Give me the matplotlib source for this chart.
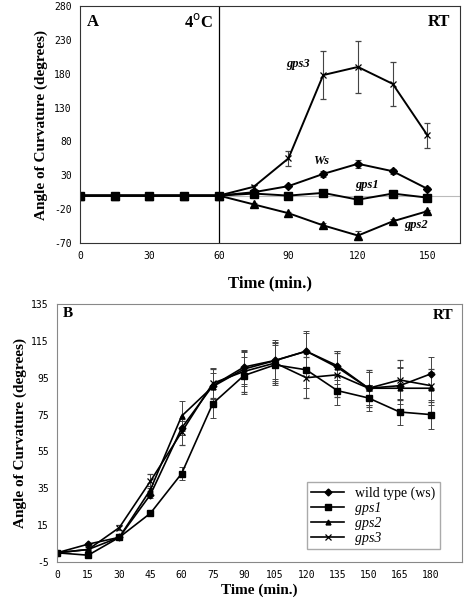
import matplotlib.pyplot as plt

plt.rcParams["axes.unicode_minus"] = False

# ---- panel A data ----
time_a = [0, 15, 30, 45, 60, 75, 90, 105, 120, 135, 150]
ws_a = [0, 0, 0, 0, 0, 5, 14, 32, 47, 36, 10]
ws_a_err = [0, 0, 0, 0, 0, 1, 2, 4, 6, 4, 2]
gps1_a = [0, 0, 0, 0, 0, 3, 0, 4, -6, 3, -3]
gps1_a_err = [0, 0, 0, 0, 0, 1, 1, 2, 2, 1, 1]
gps2_a = [0, 0, 0, 0, 0, -13, -26, -44, -59, -38, -23]
gps2_a_err = [0, 0, 0, 0, 0, 2, 2, 4, 6, 4, 2]
gps3_a = [0, 0, 0, 0, 0, 13, 55, 178, 190, 165, 89]
gps3_a_err = [0, 0, 0, 0, 0, 3, 11, 35, 38, 33, 18]

# ---- panel B data ----
time_b = [0, 15, 30, 45, 60, 75, 90, 105, 120, 135, 150, 165, 180]
ws_b = [0, 4.7, 8.4, 31.6, 67.7, 90.7, 100.8, 104.4, 109.4, 101.5, 89.3, 90.7, 97.1]
ws_b_err = [0, 0.5, 1, 2, 4, 7, 9, 10, 10, 8, 9, 10, 9]
gps1_b = [0, -1.3, 8.4, 21.5, 43, 81, 96.2, 102, 99.3, 88, 84, 76.4, 75]
gps1_b_err = [0, 0.5, 1, 1.5, 3.5, 8, 10, 11, 10, 8, 7, 7, 8]
gps2_b = [0, 1.8, 8.4, 34.3, 74.2, 90.2, 99.7, 104.3, 109.4, 100.6, 89.3, 89.3, 89.3]
gps2_b_err = [0, 0.5, 1, 2, 8, 10, 9, 11, 11, 9, 9, 11, 9]
gps3_b = [0, 1.8, 13.7, 38.9, 65.5, 92, 98.4, 103, 95, 96.6, 89.3, 93.8, 90.7]
gps3_b_err = [0, 0.5, 1.5, 4, 7, 8, 11, 11, 11, 12, 10, 11, 9]
labels_b = ["wild type (ws)", "gps1", "gps2", "gps3"]

serif = "Liberation Serif"
mono = "DejaVu Sans Mono"

fig = plt.figure(figsize=(4.65, 6), dpi=100)

# ================= panel A =================
ax = fig.add_axes([0.172, 0.595, 0.817, 0.395])
ax.axhline(0, color="#bbbbbb", lw=0.8, zorder=0)
ax.axvline(60, color="black", lw=0.9)

eb = dict(color="black", ecolor="#444444", elinewidth=0.8, capsize=2.5, capthick=0.8, lw=1.4)
ax.errorbar(time_a, gps3_a, yerr=gps3_a_err, marker="x", ms=5, mew=0.9, **eb)
ax.errorbar(time_a, gps2_a, yerr=gps2_a_err, marker="^", ms=5.5, **eb)
ax.errorbar(time_a, ws_a, yerr=ws_a_err, marker="D", ms=4.5, **eb)
ax.errorbar(time_a, gps1_a, yerr=gps1_a_err, marker="s", ms=6, **eb)

ax.set_xlim(0, 164)
ax.set_ylim(-70, 280)
ax.set_xticks([0, 30, 60, 90, 120, 150])
ax.set_yticks([-70, -20, 30, 80, 130, 180, 230, 280])
ax.tick_params(length=0, labelsize=7, pad=6)
for lab in ax.get_xticklabels() + ax.get_yticklabels():
    lab.set_family(mono)
ax.set_xlabel("Time (min.)", family=serif, fontweight="bold", fontsize=12, labelpad=10)
ax.set_ylabel("Angle of Curvature (degrees)", family=serif, fontweight="bold", fontsize=11, labelpad=4)
for s in ax.spines.values():
    s.set_color("#333333")
    s.set_linewidth(0.8)

ax.text(5.5, 257, "A", family=serif, fontweight="bold", fontsize=12, ha="center", va="center")
ax.text(51, 257, r"4$^{\rm o}$C", family=serif, fontweight="bold", fontsize=12, ha="center", va="center")
ax.text(155, 257, "RT", family=serif, fontweight="bold", fontsize=12, ha="center", va="center")
ax.text(94, 195, "gps3", family=serif, fontweight="bold", style="italic", fontsize=9, ha="center", va="center")
ax.text(104, 51, "Ws", family=serif, fontweight="bold", style="italic", fontsize=9, ha="center", va="center")
ax.text(124, 15, "gps1", family=serif, fontweight="bold", style="italic", fontsize=9, ha="center", va="center")
ax.text(145, -44, "gps2", family=serif, fontweight="bold", style="italic", fontsize=9, ha="center", va="center")

# ================= panel B =================
bx = fig.add_axes([0.1226, 0.0633, 0.871, 0.43])
eb2 = dict(color="black", ecolor="#444444", elinewidth=0.7, capsize=2.5, capthick=0.7, lw=1.2)
handles = []
handles.append(bx.errorbar(time_b, ws_b, yerr=ws_b_err, marker="D", ms=3.5, **eb2)[0])
handles.append(bx.errorbar(time_b, gps1_b, yerr=gps1_b_err, marker="s", ms=5, **eb2)[0])
handles.append(bx.errorbar(time_b, gps2_b, yerr=gps2_b_err, marker="^", ms=3.5, **eb2)[0])
handles.append(bx.errorbar(time_b, gps3_b, yerr=gps3_b_err, marker="x", ms=4.5, mew=0.9, **eb2)[0])

bx.set_xlim(0, 195)
bx.set_ylim(-5, 135)
bx.set_xticks(time_b)
bx.set_yticks([-5, 15, 35, 55, 75, 95, 115, 135])
bx.tick_params(length=0, labelsize=7, pad=6)
for lab in bx.get_xticklabels() + bx.get_yticklabels():
    lab.set_family(mono)
bx.set_xlabel("Time (min.)", family=serif, fontweight="bold", fontsize=11, labelpad=2)
bx.set_ylabel("Angle of Curvature (degrees)", family=serif, fontweight="bold", fontsize=11, labelpad=3)
for s in bx.spines.values():
    s.set_color("#888888")
    s.set_linewidth(0.8)

bx.text(5, 130, "B", family=serif, fontweight="bold", fontsize=11, ha="center", va="center")
bx.text(186, 129, "RT", family=serif, fontweight="bold", fontsize=11, ha="center", va="center")

leg = bx.legend(handles, labels_b, loc="lower right", bbox_to_anchor=(0.945, 0.05), fancybox=False,
                framealpha=1, edgecolor="#aaaaaa", handlelength=2.4, borderpad=0.3, labelspacing=0.15,
                borderaxespad=0, prop={"family": serif, "size": 10})
for t in leg.get_texts()[1:]:
    t.set_style("italic")

fig.savefig("out.png", dpi=100)
